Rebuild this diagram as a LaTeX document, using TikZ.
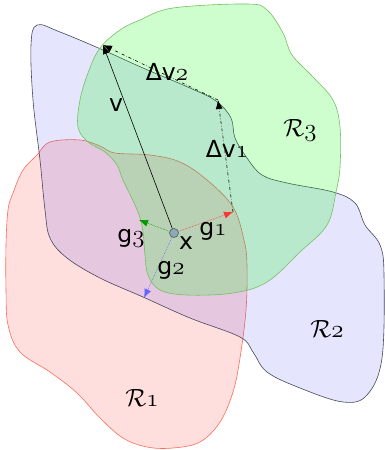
\documentclass[tikz,border=0pt]{standalone}
\usepackage{fontspec}
\newfontfamily\dvs{DejaVu Sans}
\usetikzlibrary{arrows.meta}
\definecolor{redfill}{RGB}{255,20,20}
\definecolor{redline}{RGB}{250,110,90}
\definecolor{bluefill}{RGB}{40,40,240}
\definecolor{blueline}{RGB}{70,70,90}
\definecolor{greenfill}{RGB}{10,250,10}
\definecolor{greenline}{RGB}{120,190,100}
\definecolor{ptfill}{RGB}{140,170,180}
\newcommand{\sbs}[1]{{\fontsize{24.88}{26}\usefont{OML}{cmm}{m}{it}#1}}
\tikzset{
  region/.style={line width=0.6pt},
  lbl/.style={font=\dvs\fontsize{23.5}{25}\selectfont, inner sep=0pt},
  rlbl/.style={font=\dvs\fontsize{24.88}{26}\selectfont, inner sep=0pt},
  grad/.style={densely dotted, line width=0.6pt, -{Latex[length=9pt,width=7pt]}},
  dv/.style={dash dot, line width=0.6pt, -{Latex[length=9pt,width=7pt]}},
}
\begin{document}
\begin{tikzpicture}[x=1pt,y=-1pt]
\useasboundingbox (0,0) rectangle (385,450);
% R1 (red)
\fill[redfill, fill opacity=0.14] plot[smooth cycle, tension=0.6] coordinates {
(50,142) (80,140) (100,146) (115,153) (150,155) (180,162) (207,180) (233,207)
(244,240) (247,265) (246,310) (240,358) (233,392) (220,422) (200,442) (173,448)
(147,447) (123,438) (100,418) (77,393) (50,372) (20,352) (8,325) (6,290) (6,245)
(8,210) (13,193) (23,170) (37,155)};
\draw[region, redline] plot[smooth cycle, tension=0.6] coordinates {
(50,142) (80,140) (100,146) (115,153) (150,155) (180,162) (207,180) (233,207)
(244,240) (247,265) (246,310) (240,358) (233,392) (220,422) (200,442) (173,448)
(147,447) (123,438) (100,418) (77,393) (50,372) (20,352) (8,325) (6,290) (6,245)
(8,210) (13,193) (23,170) (37,155)};
% R2 (blue)
\fill[bluefill, fill opacity=0.12] plot[smooth cycle, tension=0.6] coordinates {
(37,25) (60,32) (103,50) (143,68) (190,88) (216,101) (231,118) (235,138) (247,158)
(262,175) (287,183) (333,192) (355,203) (365,225) (380,245) (384,275) (382,358)
(367,395) (343,402) (300,388) (267,372) (253,352) (240,337) (190,318) (143,297)
(100,278) (67,258) (50,238) (45,210) (40,160) (33,100) (31,45)};
\draw[region, blueline] plot[smooth cycle, tension=0.6] coordinates {
(37,25) (60,32) (103,50) (143,68) (190,88) (216,101) (231,118) (235,138) (247,158)
(262,175) (287,183) (333,192) (355,203) (365,225) (380,245) (384,275) (382,358)
(367,395) (343,402) (300,388) (267,372) (253,352) (240,337) (190,318) (143,297)
(100,278) (67,258) (50,238) (45,210) (40,160) (33,100) (31,45)};
% R3 (green)
\fill[greenfill, fill opacity=0.2] plot[smooth cycle, tension=0.6] coordinates {
(140,20) (173,8) (247,4) (267,10) (283,33) (292,55) (313,77) (333,100) (340,127)
(340,167) (336,192) (327,225) (300,252) (267,282) (233,293) (187,295) (160,290)
(148,275) (145,255) (143,232) (138,212) (123,180) (117,165) (105,152) (88,142)
(78,127) (80,100) (88,73) (100,48) (120,30)};
\draw[region, greenline] plot[smooth cycle, tension=0.6] coordinates {
(140,20) (173,8) (247,4) (267,10) (283,33) (292,55) (313,77) (333,100) (340,127)
(340,167) (336,192) (327,225) (300,252) (267,282) (233,293) (187,295) (160,290)
(148,275) (145,255) (143,232) (138,212) (123,180) (117,165) (105,152) (88,142)
(78,127) (80,100) (88,73) (100,48) (120,30)};
% points
\node[circle, draw=blueline, fill=ptfill, minimum size=9pt, inner sep=0pt, line width=0.5pt] (x) at (174,233) {};
\coordinate (g1) at (233,212);
\coordinate (g2) at (144,298);
\coordinate (g3) at (139,220);
\coordinate (vt) at (103,45);
\coordinate (d1) at (218,100);
% arrows
\draw[grad, red!80] (x) -- (g1);
\draw[grad, blue!60] (x) -- (g2);
\draw[grad, green!60!black] (x) -- (g3);
\draw[line width=0.6pt, -{Latex[length=9pt,width=7pt]}] (x) -- (vt);
\draw[dv] (g1) -- (d1);
\draw[dv] (d1) -- (vt);
% labels
\node[lbl] (lv) at (116,105) {v};
\node[lbl] (ldv2) at (167,72) {Δv\sbs{2}};
\node[lbl] (ldv1) at (227,149) {Δv\sbs{1}};
\node[rlbl] (lr3) at (300,130) {$\mathcal{R}$\sbs{3}};
\node[lbl] (lg3) at (131,238) {g\sbs{3}};
\node[lbl] (lg1) at (213,231) {g\sbs{1}};
\node[lbl] (lx) at (186,243) {x};
\node[lbl] (lg2) at (171,270) {g\sbs{2}};
\node[rlbl] (lr2) at (327,329) {$\mathcal{R}$\sbs{2}};
\node[rlbl] (lr1) at (142,398) {$\mathcal{R}$\sbs{1}};
\end{tikzpicture}
\end{document}
